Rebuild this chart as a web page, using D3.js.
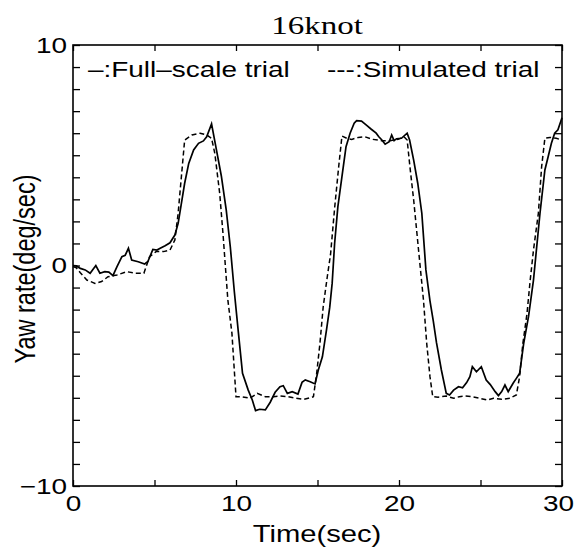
<!DOCTYPE html>
<html>
<head>
  <meta charset="utf-8" />
  <title>16knot</title>
  <script src="https://d3js.org/d3.v7.min.js"></script>
  <style>
    body { margin: 0; background: #fff; }
    text { font-family: "Liberation Sans", Arial, sans-serif; fill: #000; }
  </style>
</head>
<body>
  <script>
    // full-scale trial (solid line)
    const timeFull = [0, 0.2, 0.45, 0.75, 1.05, 1.4, 1.65, 1.95, 2.2, 2.45, 2.7, 3.0, 3.2, 3.4, 3.6, 4.0, 4.4, 4.6,
      4.9, 5.15, 5.35, 5.65, 5.95, 6.25, 6.45, 6.65, 6.85, 7.1, 7.4, 7.7, 8.0, 8.2, 8.5, 8.8, 9.1, 9.4, 9.65, 9.9,
      10.15, 10.4, 10.75, 11.0, 11.2, 11.45, 11.8, 12.1, 12.4, 12.7, 12.9, 13.15, 13.45, 13.8, 14.05, 14.25, 14.55,
      14.85, 15.05, 15.3, 15.55, 15.75, 15.9, 16.05, 16.25, 16.5, 16.75, 17.0, 17.25, 17.4, 17.7, 18.0, 18.3, 18.6,
      18.75, 18.95, 19.15, 19.4, 19.55, 19.7, 19.85, 20.15, 20.5, 20.65, 20.9, 21.15, 21.4, 21.65, 21.9, 22.1, 22.3,
      22.6, 22.9, 23.1, 23.35, 23.65, 23.9, 24.15, 24.35, 24.5, 24.75, 25.05, 25.35, 25.6, 25.9, 26.1, 26.3, 26.5,
      26.7, 27.0, 27.2, 27.4, 27.65, 27.95, 28.25, 28.65, 28.95, 29.15, 29.35, 29.55, 29.75, 30.0];
    const yawFull = [0, -0.02, -0.13, -0.2, -0.35, 0, -0.35, -0.28, -0.3, -0.46, -0.05, 0.4, 0.46, 0.78, 0.25, 0.17,
      0.07, 0.19, 0.73, 0.7, 0.78, 0.9, 1.03, 1.38, 1.91, 2.82, 3.73, 4.63, 5.24, 5.54, 5.65, 5.84, 6.42, 5.24, 4.06,
      2.52, 0.85, -1.2, -3.07, -4.89, -5.65, -6.1, -6.58, -6.52, -6.55, -6.2, -5.75, -5.5, -5.45, -5.8, -5.72, -5.83,
      -5.3, -5.19, -5.27, -5.37, -4.74, -4.14, -2.93, -1.9, -0.8, 1.0, 2.67, 4.03, 5.39, 6.0, 6.45, 6.57, 6.55, 6.37,
      6.18, 6.0, 5.85, 5.69, 5.5, 5.61, 5.92, 5.66, 5.75, 5.77, 6.0, 5.69, 4.78, 3.73, 2.37, -0.2, -1.6, -2.5, -3.5,
      -4.74, -5.8, -5.87, -5.65, -5.5, -5.55, -5.31, -5.04, -4.59, -4.82, -4.59, -5.19, -5.4, -5.72, -5.9, -5.72,
      -5.42, -5.72, -5.34, -5.12, -4.89, -3.53, -2.3, -0.66, 2.37, 4.33, 4.93, 5.54, 6.0, 6.15, 6.7];

    // simulated trial (dashed line)
    const timeSim = [0, 0.2, 0.45, 0.85, 1.35, 1.75, 2.15, 2.7, 3.3, 3.8, 4.35, 4.7, 5.1, 5.55, 5.95, 6.25, 6.45, 6.65,
      6.85, 7.3, 7.8, 8.2, 8.5, 8.7, 9.0, 9.2, 9.5, 9.75, 10.0, 10.35, 10.85, 11.3, 11.8, 12.3, 12.7, 13.2, 13.7,
      14.15, 14.55, 14.75, 14.95, 15.15, 15.35, 15.6, 15.8, 16.05, 16.3, 16.5, 16.8, 17.1, 17.5, 17.9, 18.4, 18.95,
      19.45, 19.95, 20.3, 20.5, 20.67, 20.9, 21.2, 21.5, 21.7, 21.9, 22.07, 22.4, 22.9, 23.35, 23.7, 24.05, 24.5,
      24.95, 25.4, 25.8, 26.3, 26.8, 27.2, 27.4, 27.6, 27.85, 28.05, 28.25, 28.55, 28.75, 28.95, 29.25, 29.65, 30.0];
    const yawSim = [-0.05, -0.1, -0.33, -0.66, -0.81, -0.73, -0.51, -0.43, -0.28, -0.35, -0.35, 0.4, 0.63, 0.63, 0.7,
      1.16, 2.37, 4.03, 5.69, 5.92, 6.0, 5.92, 5.77, 5.09, 3.27, 1.46, -1.56, -3.07, -5.95, -5.95, -6.02, -5.8, -5.95,
      -5.95, -5.92, -5.95, -6.02, -6.07, -6.0, -5.95, -4.89, -3.53, -1.87, -0.51, 0.5, 2.6, 4.48, 5.87, 5.77, 5.72,
      5.81, 5.84, 5.72, 5.66, 5.66, 5.72, 5.84, 5.69, 4.48, 2.97, 0.7, -1.56, -3.53, -5.04, -5.95, -5.97, -5.92,
      -6.02, -5.95, -5.92, -5.95, -6.02, -6.1, -6.02, -6.07, -6.02, -5.87, -5.04, -3.53, -2.2, -0.66, 0.7, 2.37, 4.48,
      5.77, 5.81, 5.77, 5.69];

    const xLabels = [0, 10, 20, 30];
    const yLabels = [-10, 0, 10];

    const width = 585;
    const height = 550;
    const plotL = 73, plotR = 562, plotT = 45, plotB = 486;
    const SX = 1.27; // the scanned figure is stretched sideways

    const svg = d3.select("body")
      .append("svg")
      .attr("width", width)
      .attr("height", height);

    const scaleX = d3.scaleLinear().domain([0, 30]).range([plotL, plotR]);
    const scaleY = d3.scaleLinear().domain([-10, 10]).range([plotB, plotT]);

    // tick marks pointing inward, labels only at a few values
    const fmtY = d => yLabels.includes(d) ? d3.format("")(d) : "";
    const fmtX = d => xLabels.includes(d) ? d : "";

    const gLeft = svg.append("g")
      .attr("transform", `translate(${plotL},0)`)
      .call(d3.axisLeft(scaleY).tickValues(d3.range(-10, 11, 1)).tickSize(-7).tickFormat(fmtY));
    svg.append("g")
      .attr("transform", `translate(${plotR},0)`)
      .call(d3.axisRight(scaleY).tickValues(d3.range(-10, 11, 1)).tickSize(-7).tickFormat(""));
    const gBottom = svg.append("g")
      .attr("transform", `translate(0,${plotB})`)
      .call(d3.axisBottom(scaleX).tickValues(d3.range(0, 31, 5)).tickSize(-6).tickPadding(9).tickFormat(fmtX));
    svg.append("g")
      .attr("transform", `translate(0,${plotT})`)
      .call(d3.axisTop(scaleX).tickValues(d3.range(0, 31, 5)).tickSize(-6).tickFormat(""));

    svg.selectAll(".domain").remove();
    svg.selectAll(".tick line").attr("stroke", "#000").attr("stroke-width", 1.3);
    svg.selectAll(".tick text").style("font-size", "22px").attr("fill", "#000");
    gLeft.selectAll(".tick text")
      .attr("x", -6 / SX)
      .attr("transform", `scale(${SX},1)`);
    gBottom.selectAll(".tick text")
      .attr("x", d => d === 30 ? -4 / SX : 0)
      .attr("transform", `scale(${SX},1)`);

    // frame
    svg.append("rect")
      .attr("x", plotL).attr("y", plotT)
      .attr("width", plotR - plotL).attr("height", plotB - plotT)
      .attr("fill", "none").attr("stroke", "#000").attr("stroke-width", 1.6);

    const lineF = d3.line()
      .x(d => scaleX(d[0]))
      .y(d => scaleY(d[1]));

    svg.append("path")
      .datum(timeSim.map((t, i) => [t, yawSim[i]]))
      .attr("d", lineF)
      .attr("fill", "none")
      .attr("stroke", "#000")
      .attr("stroke-width", 1.5)
      .attr("stroke-dasharray", "5,3");

    svg.append("path")
      .datum(timeFull.map((t, i) => [t, yawFull[i]]))
      .attr("d", lineF)
      .attr("fill", "none")
      .attr("stroke", "#000")
      .attr("stroke-width", 1.7);

    function label(x, y, txt, size, anchor) {
      return svg.append("text")
        .attr("transform", `translate(${x},${y}) scale(${SX},1)`)
        .attr("text-anchor", anchor || "start")
        .style("font-size", size + "px")
        .text(txt);
    }

    // title
    label(317, 34, "16knot", 26, "middle")
      .style("font-family", "'Liberation Serif', 'Times New Roman', serif");

    // legend
    label(88, 77, "–:Full–scale trial", 22);
    label(327, 77, "---:Simulated trial", 22);

    // axis titles
    label(317, 542, "Time(sec)", 23, "middle");
    svg.append("text")
      .attr("transform", `translate(35,269) scale(${SX},1) rotate(-90)`)
      .attr("text-anchor", "middle")
      .style("font-size", "23.5px")
      .text("Yaw rate(deg/sec)");
  </script>
</body>
</html>
